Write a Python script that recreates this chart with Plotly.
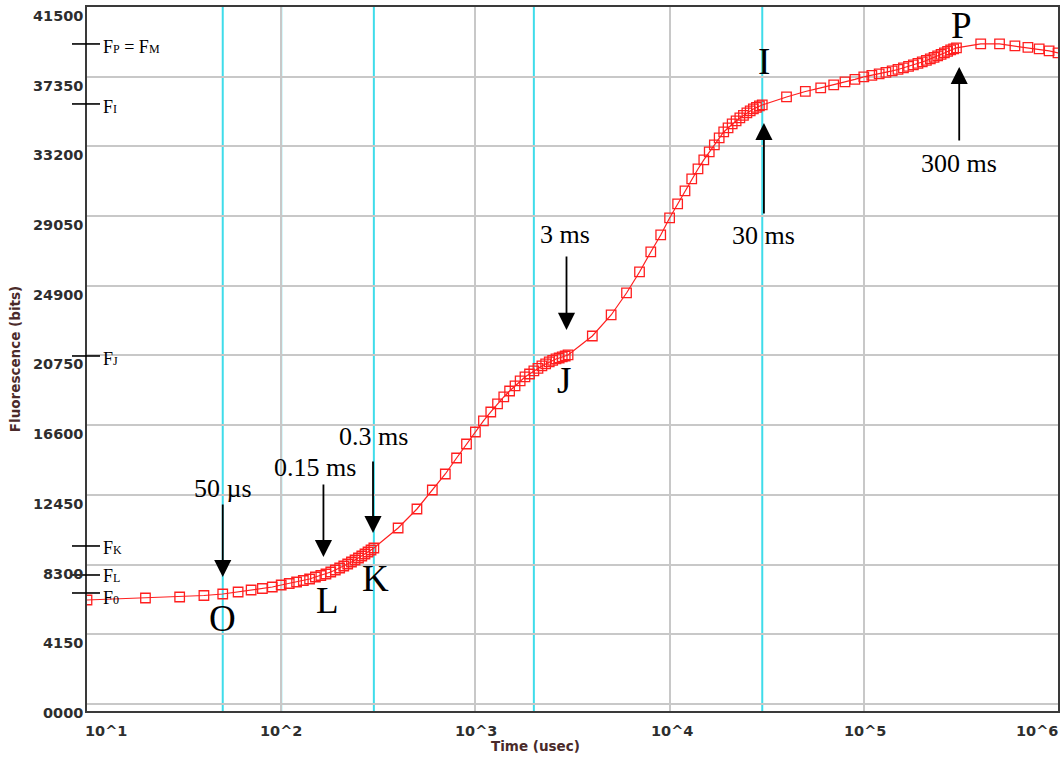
import numpy as np
import plotly.graph_objects as go

# ---- data (time in microseconds, fluorescence in bits) ----
time_seg1_us = [10, 20, 30, 40, 50, 60, 70, 80, 90, 100, 110, 120, 130, 140, 150,
                160, 170, 180, 190, 200, 210, 220, 230, 240, 250, 260, 270, 280, 290, 300]
fluor_seg1 = [6190, 6309, 6369, 6458, 6547, 6666, 6786, 6875, 6964, 7083, 7173, 7262, 7351, 7441, 7560,
              7649, 7738, 7857, 7977, 8096, 8215, 8334, 8453, 8572, 8691, 8810, 8929, 9048, 9168, 9287]

time_seg2_us = [400, 500, 600, 700, 800, 900, 1000, 1100, 1200, 1300, 1400, 1500, 1600, 1700,
                1800, 1900, 2000, 2100, 2200, 2300, 2400, 2500, 2600, 2700, 2800, 2900, 3000]
fluor_seg2 = [10478, 11609, 12741, 13693, 14646, 15480, 16194, 16850, 17385, 17862, 18279, 18636, 18934, 19232,
              19470, 19648, 19827, 19976, 20125, 20244, 20363, 20453, 20542, 20601, 20661, 20720, 20780]

time_seg3_us = [4000, 5000, 6000, 7000, 8000, 9000, 10000, 11000, 12000, 13000, 14000, 15000, 16000, 17000,
                18000, 19000, 20000, 21000, 22000, 23000, 24000, 25000, 26000, 27000, 28000, 29000, 30000]
fluor_seg3 = [21911, 23162, 24472, 25722, 26913, 27926, 28938, 29772, 30546, 31261, 31856, 32392, 32868, 33285,
              33702, 34059, 34298, 34536, 34715, 34893, 35042, 35191, 35310, 35429, 35518, 35608, 35667]

time_seg4_us = [40000, 50000, 60000, 70000, 80000, 90000, 100000, 110000, 120000, 130000, 140000, 150000,
                160000, 170000, 180000, 190000, 200000, 210000, 220000, 230000, 240000, 250000, 260000,
                270000, 280000, 290000, 300000]
fluor_seg4 = [36144, 36471, 36680, 36858, 37037, 37186, 37335, 37424, 37513, 37603, 37692, 37781,
              37871, 37960, 38049, 38139, 38228, 38317, 38407, 38496, 38585, 38675, 38764,
              38853, 38943, 39002, 39062]

time_seg5_us = [400000, 500000, 600000, 700000, 800000, 900000, 1000000]
fluor_seg5 = [39300, 39300, 39181, 39091, 39002, 38883, 38764]

time_us = time_seg1_us + time_seg2_us + time_seg3_us + time_seg4_us + time_seg5_us
fluor = fluor_seg1 + fluor_seg2 + fluor_seg3 + fluor_seg4 + fluor_seg5

y_tick_vals = [0, 4150, 8300, 12450, 16600, 20750, 24900, 29050, 33200, 37350, 41500]
y_tick_text = ["0000", "4150", "8300", "12450", "16600", "20750", "24900", "29050", "33200", "37350", "41500"]
x_tick_vals = [10, 100, 1000, 10000, 100000, 1000000]
x_tick_text = ["10^1", "10^2", "10^3", "10^4", "10^5", "10^6"]

marker_times_us = [50, 100, 300, 2000, 30000]   # cyan reference lines

# F levels marked on the y axis
SUB = "<span style='font-size:12px'>{}</span>"
f_labels = ["F" + SUB.format("P") + " = F" + SUB.format("M"),
            "F" + SUB.format("I"),
            "F" + SUB.format("J"),
            "F" + SUB.format("K"),
            "F" + SUB.format("L"),
            "F" + SUB.format("0")]
f_values = [39300, 35727, 20720, 9406, 7679, 6607]
f_label_dy = [-3, -3, -3, -2, -1, -5]

# phase letters
phase_letters = ["O", "L", "K", "J", "I", "P"]
phase_x_us = [50, 172.5, 305, 2845, 30600, 318000]
phase_y = [5118, 6131, 7441, 19232, 38228, 40372]

# time arrows: label, label x (us), label y, arrow tip x (us), tip y, tail offset (px)
arrow_labels = ["50 µs", "0.15 ms", "0.3 ms", "3 ms", "30 ms", "300 ms"]
arrow_label_x = [50, 150, 300, 2900, 30600, 310000]
arrow_label_y = [12800, 14051, 15897, 27926, 27866, 32154]
arrow_tip_x = [50, 165, 297, 2945, 30600, 310000]
arrow_tip_y = [7560, 8751, 10180, 22269, 34595, 37930]
arrow_tail_dy = [-74, -74, -73, -75, 92, 75]

RED = "#ff1f1f"
CYAN = "#3fdcea"
GRID = "#c8c8c8"
AXIS = "#3a3a3a"

fig = go.Figure()
fig.add_trace(go.Scatter(
    x=time_us, y=fluor, mode="lines+markers",
    line=dict(color=RED, width=1.2),
    marker=dict(symbol="square-open", size=9.5, color=RED, line=dict(width=1.3, color=RED)),
    showlegend=False, hoverinfo="x+y",
))

shapes = []
for t in marker_times_us:
    shapes.append(dict(type="line", xref="x", yref="paper", x0=t, x1=t,
                       y0=0, y1=1, line=dict(color=CYAN, width=2), layer="between"))
for v in f_values:
    shapes.append(dict(type="line", xref="paper", yref="y", xsizemode="pixel", xanchor=0,
                       x0=-15, x1=13, y0=v, y1=v, line=dict(color="black", width=1.6)))

annotations = []
serif = "Liberation Serif, Times New Roman, serif"
for txt, v, dy in zip(f_labels, f_values, f_label_dy):
    annotations.append(dict(text=txt, xref="paper", yref="y", x=0, y=v, xanchor="left",
                            yanchor="middle", xshift=14, yshift=dy, showarrow=False,
                            font=dict(family=serif, size=18, color="black")))
for txt, xu, yv in zip(phase_letters, phase_x_us, phase_y):
    annotations.append(dict(text=txt, xref="x", yref="y", x=np.log10(xu), y=yv, showarrow=False,
                            xanchor="center", yanchor="middle",
                            font=dict(family=serif, size=37, color="black")))
for txt, lx, ly in zip(arrow_labels, arrow_label_x, arrow_label_y):
    annotations.append(dict(text=txt, xref="x", yref="y", x=np.log10(lx), y=ly, showarrow=False,
                            xanchor="center", yanchor="middle",
                            font=dict(family=serif, size=26, color="black")))
for tx, ty, dy in zip(arrow_tip_x, arrow_tip_y, arrow_tail_dy):
    annotations.append(dict(text="", xref="x", yref="y", x=np.log10(tx), y=ty, showarrow=True,
                            ax=0, ay=dy, arrowhead=2, arrowsize=1.9, arrowwidth=1.8,
                            arrowcolor="black"))

tick_font = dict(family="DejaVu Sans, Arial, sans-serif", size=14.5, color="#2e2e2e", weight="bold")
x_shift = [19, 0, 1, 2, 1, -21]
for v, t, s in zip(x_tick_vals, x_tick_text, x_shift):
    annotations.append(dict(text=t, xref="x", yref="paper", x=np.log10(v), y=0, yshift=-20,
                            xshift=s, xanchor="center", yanchor="middle", showarrow=False,
                            font=tick_font))
for v, t in zip(y_tick_vals, y_tick_text):
    annotations.append(dict(text=t, xref="paper", yref="y", x=0, y=v, xshift=-2, yshift=-9,
                            xanchor="right", yanchor="middle", showarrow=False, font=tick_font))

title_font = dict(family="DejaVu Sans, Arial, sans-serif", size=13.5, color="#4a2a2a", weight="bold")
annotations.append(dict(text="Time (usec)", xref="paper", yref="paper", x=0.4615, y=0, yshift=-35,
                        xanchor="center", yanchor="middle", showarrow=False, font=title_font))
annotations.append(dict(text="Fluorescence (bits)", xref="paper", yref="paper", x=-0.074, y=0.5,
                        textangle=-90, xanchor="center", yanchor="middle", showarrow=False,
                        font=title_font))

fig.update_layout(
    width=1062, height=760,
    margin=dict(l=87, r=2, t=7, b=49),
    paper_bgcolor="white", plot_bgcolor="white",
    shapes=shapes, annotations=annotations,
    xaxis=dict(type="log", range=[1, 6], tickvals=x_tick_vals, showticklabels=False,
               showgrid=True, gridcolor=GRID, gridwidth=1.6, ticks="",
               showline=True, linecolor=AXIS, linewidth=2, mirror=True, zeroline=False),
    yaxis=dict(range=[-420, 41500], tickvals=y_tick_vals, showticklabels=False,
               showgrid=True, gridcolor=GRID, gridwidth=1.6, ticks="",
               showline=True, linecolor=AXIS, linewidth=2, mirror=True, zeroline=False),
)

fig.write_html("out.html", config={"displayModeBar": False},
               post_script="document.body.style.margin='0';")
